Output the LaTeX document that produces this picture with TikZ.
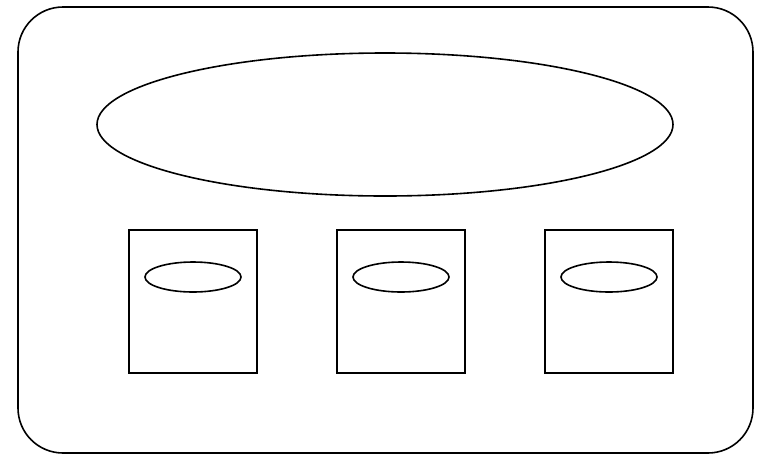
\documentclass[tikz,border=0pt]{standalone}
\usetikzlibrary{shapes.geometric}
\begin{document}
\begin{tikzpicture}[
        x=1pt, y=-1pt,
        frame/.style={
            draw,
            line width=1.6pt,
            rounded corners=45pt,
            minimum width=735pt,
            minimum height=446pt,
            inner sep=0pt
        },
        bigoval/.style={
            draw,
            ellipse,
            line width=1.6pt,
            minimum width=576pt,
            minimum height=143pt,
            inner sep=0pt
        },
        card/.style={
            draw,
            line width=1.6pt,
            minimum width=128pt,
            minimum height=143pt,
            inner sep=0pt
        },
        smalloval/.style={
            draw,
            ellipse,
            line width=1.6pt,
            minimum width=96pt,
            minimum height=30pt,
            inner sep=0pt
        }
    ]
        \useasboundingbox (0,0) rectangle (771,456);

        % outer frame
        \node[frame] (outer) at (385.5,230) {};

        % large ellipse
        \node[bigoval] (top) at (385,124.5) {};

        % three boxes with small ellipses
        \node[card] (left) at (193,301.5) {};
        \node[smalloval] (lefto) at (193,277) {};

        \node[card] (middle) at (401,301.5) {};
        \node[smalloval] (middleo) at (401,277) {};

        \node[card] (right) at (609,301.5) {};
        \node[smalloval] (righto) at (609,277) {};
    \end{tikzpicture}
\end{document}
